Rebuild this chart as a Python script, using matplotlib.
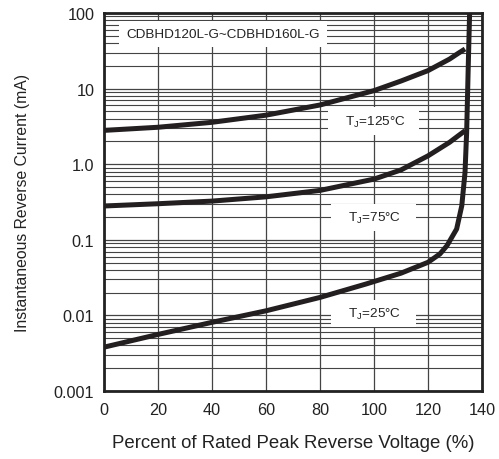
import matplotlib
matplotlib.use('Agg')
import matplotlib.pyplot as plt
import numpy as np
from matplotlib.ticker import FixedLocator, LogLocator, NullFormatter

plt.rcParams['font.family'] = ['Liberation Sans', 'DejaVu Sans']

# Tj = 125 C
v125 = [0, 20, 40, 60, 80, 100, 110, 120, 128, 131, 133.7]
i125 = [2.8, 3.08, 3.58, 4.45, 6.07, 9.4, 12.6, 17.3, 24.6, 29.0, 33.4]
# Tj = 75 C
v75 = [0, 20, 40, 60, 80, 100, 110, 120, 128, 131, 133.7]
i75 = [0.28, 0.30, 0.325, 0.37, 0.45, 0.635, 0.84, 1.29, 1.95, 2.35, 2.77]
# Tj = 25 C
v25 = [0, 20, 40, 60, 80, 97, 110, 120, 124.4, 127, 130.6, 132.5, 133.7, 134.3, 134.9, 135.4]
i25 = [0.0038, 0.0056, 0.0081, 0.0115, 0.0173, 0.026, 0.0362, 0.0504, 0.065, 0.0835, 0.139,
       0.282, 0.78, 2.64, 20, 100]

xticks = [0, 20, 40, 60, 80, 100, 120, 140]
yticks = [0.001, 0.01, 0.1, 1, 10, 100]
ylabels = ['0.001', '0.01', '0.1', '1.0', '10', '100']

fig = plt.figure(figsize=(4.99, 4.60), dpi=100)
ax = fig.add_axes([0.2084, 0.1478, 0.966 - 0.2084, 0.9696 - 0.1478])
ax.set_yscale('log')
ax.set_xlim(0, 140)
ax.set_ylim(0.001, 100)

ax.xaxis.set_major_locator(FixedLocator(xticks))
ax.yaxis.set_major_locator(FixedLocator(yticks))
ax.set_yticklabels(ylabels)
ax.yaxis.set_minor_locator(LogLocator(base=10, subs=np.arange(2, 10)))
ax.yaxis.set_minor_formatter(NullFormatter())
ax.set_axisbelow(True)
ax.grid(which='major', color='#444444', lw=0.9)
ax.grid(which='minor', axis='y', color='#444444', lw=0.8)
ax.tick_params(which='both', length=0, labelsize=11.7, colors='#222222')
ax.tick_params(axis='x', pad=8)
ax.tick_params(axis='y', pad=7)
for s in ax.spines.values():
    s.set_linewidth(2)
    s.set_color('#222222')

for v, i in [(v125, i125), (v75, i75), (v25, i25)]:
    ax.plot(v, i, color='#231f20', lw=3.6, zorder=4, solid_capstyle='butt')

ax.text(44, 52.8, 'CDBHD120L-G~CDBHD160L-G', ha='center', va='center', fontsize=9.7,
        color='#222222', bbox=dict(facecolor='white', edgecolor='none', pad=5), zorder=3)
for y, t in [(3.73, '125'), (0.195, '75'), (0.0105, '25')]:
    ax.text(99.8, y, '   T$_\\mathregular{J}$=' + t + '°C   ', ha='center', va='center',
            fontsize=9.7, color='#222222',
            bbox=dict(facecolor='white', edgecolor='none', boxstyle='square,pad=0.45'),
            zorder=3)

ax.set_xlabel('Percent of Rated Peak Reverse Voltage (%)', fontsize=13.4, color='#222222', labelpad=12)
ax.set_ylabel('Instantaneous Reverse Current (mA)', fontsize=11.3, color='#222222', labelpad=17)

fig.savefig('out.png', dpi=100)
